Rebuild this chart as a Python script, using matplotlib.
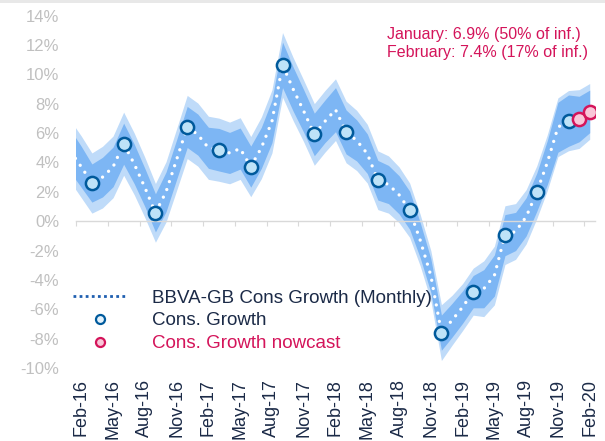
"""
BBVA-GB consumption growth tracker: monthly fan chart with quarterly outturns
"""
import matplotlib.pyplot as plt
from matplotlib.lines import Line2D
from matplotlib.patches import Rectangle
import numpy as np
import pandas as pd

# pylint: disable=invalid-name

plt.rcParams['font.family'] = ['Liberation Sans', 'DejaVu Sans']

# monthly tracker, Jan-16 .. Feb-20 (Jan-16 only shows as the cut-off left edge)
months = list(pd.date_range('2016-01-01', '2020-02-01', freq='MS').strftime('%b-%y'))
monthly_mid = [4.75, 3.7, 2.6, 3.0, 3.7, 5.28, 3.9, 2.3, 0.57, 2.0, 4.2, 6.42,
               5.9, 5.0, 4.87, 4.65, 4.95, 3.72, 5.0, 6.8, 10.65, 9.0, 7.5, 5.91,
               6.8, 7.6, 6.08, 5.5, 4.6, 2.79, 2.5, 1.8, 0.75, -1.3, -3.7, -7.59,
               -6.75, -5.85, -4.8, -4.6, -3.7, -0.95, -0.7, 0.3, 1.97, 4.0, 6.4, 6.85,
               6.96, 7.48]
inner_hw = [1.45, 1.4, 1.3, 1.35, 1.35, 1.4, 1.35, 1.3, 1.3, 1.35, 1.35, 1.4,
            1.4, 1.4, 1.45, 1.4, 1.4, 1.4, 1.4, 1.45, 1.55, 1.5, 1.45, 1.45,
            1.45, 1.5, 1.5, 1.4, 1.35, 1.35, 1.3, 1.3, 1.3, 1.2, 1.15, 1.2,
            1.15, 1.1, 1.1, 1.3, 1.4, 1.4, 1.3, 1.3, 1.3, 1.5, 1.7, 1.75,
            1.55, 1.45]
outer_hw = [2.1, 2.1, 2.05, 2.1, 2.1, 2.15, 2.1, 2.05, 2.0, 2.05, 2.1, 2.15,
            2.15, 2.15, 2.15, 2.1, 2.1, 2.05, 2.1, 2.15, 2.2, 2.15, 2.1, 2.1,
            2.1, 2.1, 2.1, 2.05, 2.0, 2.0, 1.95, 1.9, 1.85, 1.75, 1.7, 1.9,
            1.7, 1.6, 1.6, 1.9, 2.0, 2.0, 1.9, 1.85, 1.8, 1.9, 2.0, 2.05,
            2.0, 1.9]

# quarterly outturns
cons_dates = ['Mar-16', 'Jun-16', 'Sep-16', 'Dec-16', 'Mar-17', 'Jun-17', 'Sep-17',
              'Dec-17', 'Mar-18', 'Jun-18', 'Sep-18', 'Dec-18', 'Mar-19', 'Jun-19',
              'Sep-19', 'Dec-19']
cons_growth = [2.6, 5.28, 0.57, 6.42, 4.87, 3.72, 10.65, 5.91, 6.08, 2.79, 0.75,
               -7.59, -4.8, -0.95, 1.97, 6.85]
nowcast_dates = ['Jan-20', 'Feb-20']
nowcast = [6.95, 7.45]

navy = '#1b2a47'
pink = '#d4145a'
grey = '#c0c0c0'

# category index, Feb-16 = 0
xm = np.arange(len(months)) - 1
mid = np.array(monthly_mid)
inner = np.array(inner_hw)
outer = np.array(outer_hw)
xc = [months.index(d) - 1 for d in cons_dates]
xn = [months.index(d) - 1 for d in nowcast_dates]

fig = plt.figure(figsize=(6.05, 4.41), dpi=100)
ax = fig.add_axes([76 / 605, 1 - 368 / 441, 519 / 605, 352.3 / 441])

ax.fill_between(xm, mid - outer, mid + outer, color='#bfdbf9', lw=0, zorder=1)
ax.fill_between(xm, mid - inner, mid + inner, color='#7db6f4', lw=0, zorder=2)
ax.plot(xm, mid, color='white', lw=2.4, linestyle=(0, (0.01, 2.5)),
        dash_capstyle='round', zorder=3)
ax.plot(xc, cons_growth, 'o', ms=9.5, mfc='#bee3f8', mec='#005a9c', mew=1.8,
        zorder=4)
for xx, yy in zip(xn, nowcast):
    ax.plot(xx, yy, 'o', ms=9.5, mfc='#f9c6d8', mec=pink, mew=1.8, zorder=5)

ax.set_xlim(-0.5, 48.5)
ax.set_ylim(-10, 14)

for side in ('top', 'right', 'left'):
    ax.spines[side].set_visible(False)
ax.spines['bottom'].set_position(('data', 0))
ax.spines['bottom'].set_color('#d9d9d9')
ax.spines['bottom'].set_linewidth(1.0)
ax.set_xticks(np.arange(-0.5, 48, 3))
ax.tick_params(axis='x', direction='out', length=3.5, color='#d9d9d9',
               labelbottom=False)

yt = np.arange(-10, 15, 2)
ax.set_yticks(yt)
ax.set_yticklabels(['{}%'.format(v) for v in yt])
ax.tick_params(axis='y', length=0, pad=12, labelsize=12, labelcolor=grey)

sec = ax.secondary_xaxis('bottom')
sec.spines['bottom'].set_visible(False)
sec.set_xticks(range(0, 49, 3))
sec.set_xticklabels(months[1::3], rotation=90)
sec.tick_params(length=0, pad=8, labelsize=13, labelcolor=navy)

handles = [
    Line2D([], [], color='#1f5fb0', lw=2, linestyle=(0, (1, 1.2))),
    Line2D([], [], ls='none', marker='o', ms=6.5, mfc='#e3f2fc', mec='#005a9c',
           mew=1.6),
    Line2D([], [], ls='none', marker='o', ms=6.5, mfc='#f9c6d8', mec=pink,
           mew=1.6),
]
labels = ['BBVA-GB Cons Growth (Monthly)', 'Cons. Growth', 'Cons. Growth nowcast']
leg = ax.legend(handles, labels, loc='center left', bbox_to_anchor=(-0.006, 0.134),
                frameon=False, fontsize=13.5, handlelength=2.9, handletextpad=1.3,
                labelspacing=0.3, borderpad=0, borderaxespad=0)
for txt, col in zip(leg.get_texts(), [navy, navy, pink]):
    txt.set_color(col)

fig.text(387 / 605, 1 - 27 / 441,
         'January: 6.9% (50% of inf.)\nFebruary: 7.4% (17% of inf.)',
         ha='left', va='top', fontsize=11.5, color=pink, linespacing=1.25)

fig.add_artist(Rectangle((0, 1 - 3 / 441), 1, 3 / 441, transform=fig.transFigure,
                         color='#e8e8e8', lw=0))

fig.savefig('out.png', dpi=100)
